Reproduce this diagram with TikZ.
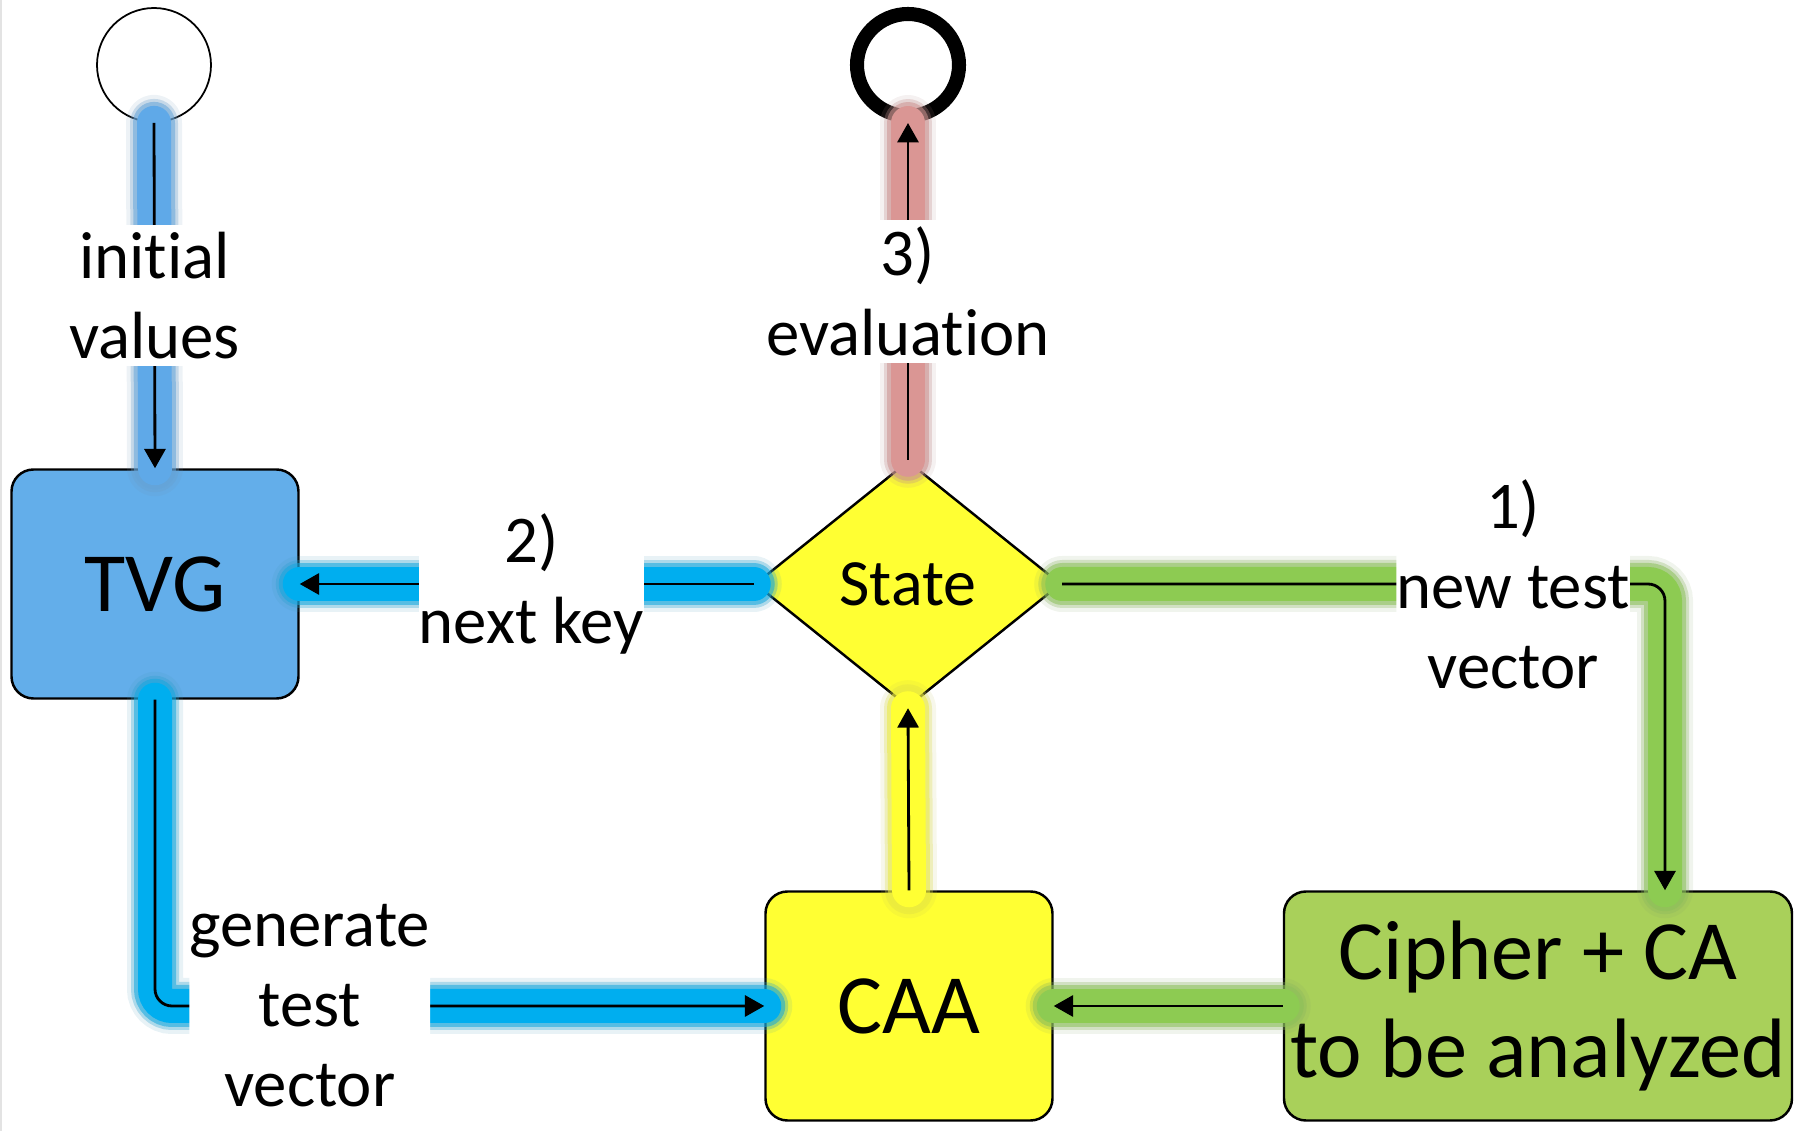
\documentclass[tikz,border=0pt]{standalone}
\usepackage{fontspec}
\setmainfont{Carlito}[Ligatures=NoCommon]
\usepackage{tikz}
\usetikzlibrary{arrows.meta,positioning,shapes.geometric}
\definecolor{tvgblue}{HTML}{63AEEA}
\definecolor{skyglow}{HTML}{5FA9E8}
\definecolor{cyanglow}{HTML}{00AEEF}
\definecolor{roseglow}{HTML}{DA9694}
\definecolor{leafglow}{HTML}{8DCB52}
\definecolor{lemon}{HTML}{FFFF33}
\definecolor{lime}{HTML}{A9D05A}
\definecolor{edgegray}{HTML}{E3E3E3}

% soft coloured halo under a connector
\newcommand{\glowline}[2]{%
  \foreach \w/\o/\m in {0.56/0.12/50,0.48/0.3/70,0.42/0.55/85,0.34/1/100}
    \draw[#1!\m!gray, line width=\w cm, opacity=\o, line cap=round, rounded corners=0.17cm] #2;}

\begin{document}
\begin{tikzpicture}[
  box/.style={draw, line width=0.7pt, rounded corners=0.22cm, minimum width=2.87cm, minimum height=2.29cm, font=\fontsize{24}{28}\selectfont},
  conn/.style={draw=black, line width=0.8pt, -{Triangle[length=5.5pt,width=6pt]}},
  lbl/.style={fill=white, align=center, inner xsep=0pt, inner ysep=2pt, font=\fontsize{19}{22.8}\selectfont}]
  \useasboundingbox (0,0) rectangle (18.03,11.31);
  \draw[edgegray, line width=0.6pt] (0.01,0) -- (0.01,11.31);

  \node[box, fill=tvgblue] (tvg) at (1.55,5.47) {TVG};
  \node[diamond, draw, fill=lemon, line width=0.7pt, minimum width=3.06cm, minimum height=2.46cm, inner sep=0pt, font=\fontsize{18.8}{22}\selectfont] (state) at (9.08,5.47) {State};
  \node[box, fill=lemon] (caa) at (9.09,1.25) {CAA};
  \node[box, fill=lime, minimum width=5.08cm, inner xsep=0.02cm, align=center] (cipher) at (15.38,1.25) {Cipher + CA\\to be analyzed};
  \node[circle, draw, line width=0.5pt, minimum size=1.14cm] (src) at (1.54,10.66) {};
  \node[circle, draw, line width=4pt, minimum size=1.02cm] (sink) at (9.08,10.66) {};

  \glowline{skyglow}{(src.south) -- (tvg.north)}
  \glowline{roseglow}{(state.north) -- (sink.south)}
  \glowline{cyanglow}{(state.west) -- (tvg.east)}
  \glowline{cyanglow}{(tvg.south) |- (caa.west)}
  \glowline{leafglow}{(state.east) -| ([xshift=1.27cm]cipher.north)}
  \glowline{leafglow}{(cipher.west) -- (caa.east)}
  \glowline{lemon}{(caa.north) -- (state.south)}

  \draw[conn] (src.south) -- node[lbl]{initial\\values} (tvg.north);
  \draw[conn] (state.north) -- node[lbl]{3)\\evaluation} (sink.south);
  \draw[conn] (state.west) -- node[lbl, pos=0.49]{2)\\next key} (tvg.east);
  \draw[conn, rounded corners=0.17cm] (state.east) -| node[lbl, pos=0.374]{1)\\new test\\vector} ([xshift=1.27cm]cipher.north);
  \draw[conn, rounded corners=0.17cm] (tvg.south) |- node[lbl, pos=0.627]{generate\\test\\vector} (caa.west);
  \draw[conn] (cipher.west) -- (caa.east);
  \draw[conn] (caa.north) -- (state.south);
\end{tikzpicture}
\end{document}
